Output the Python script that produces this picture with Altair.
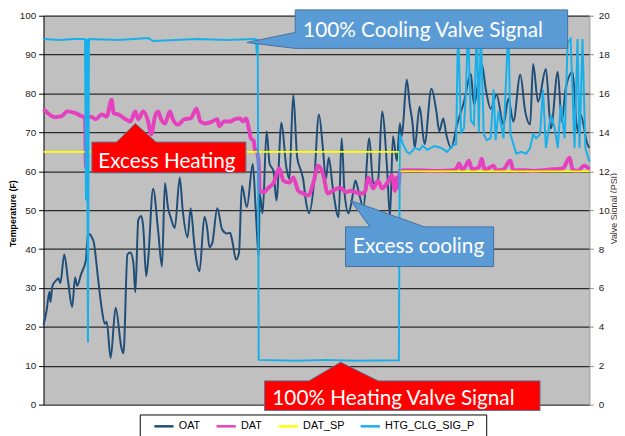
import altair as alt
import pandas as pd

# ---------------- data (sample index 0..553) ----------------
OAT_T = [0, 3, 6, 7, 9, 13, 15, 17, 21, 25, 29, 32, 34, 38, 43, 45, 49, 51, 55, 59, 62, 64, 68, 73,
         79, 81, 85, 88, 91, 93, 96, 99, 101, 104, 106, 111, 116, 120, 123, 126, 129, 133, 138, 141,
         146, 149, 153, 158, 163, 166, 168, 171, 176, 181, 186, 189, 191, 195, 198, 201, 206, 212,
         215, 218, 219, 222, 226, 229, 233, 236, 241, 246, 249, 253, 257, 261, 263, 266, 269, 274,
         279, 283, 286, 289, 293, 299, 302, 305, 309, 312, 316, 319, 324, 330, 334, 339, 343, 348,
         351, 354, 358, 361, 363, 368, 371, 374, 376, 381, 386, 393, 398, 401, 405, 408, 413, 419,
         426, 433, 436, 444, 448, 453, 459, 466, 471, 476, 483, 488, 493, 496, 501, 509, 514, 521,
         525, 529, 536, 541, 544, 551, 553]
OAT_V = [20.4, 24, 29, 26.4, 30.5, 32, 32.5, 31.2, 38.6, 31.5, 25.1, 32.7, 30.5, 33.5, 37.3, 44, 43,
         41.6, 33, 24.6, 20.8, 21.3, 12, 24.9, 14.5, 13.2, 38.6, 39.1, 36.5, 28.9, 47.5, 48.5, 45.7,
         33, 37.3, 55.5, 45, 35.5, 57, 50.8, 48, 45.4, 58.4, 50, 43, 50.5, 40.6, 34.3, 48.3, 45,
         40.5, 41.6, 50.5, 45, 44, 44.2, 42.4, 37.3, 39, 56.3, 50.8, 61.9, 50, 38, 54.3, 49.2, 70.3,
         62, 60, 52.5, 72.5, 61, 58, 79.7, 63.5, 60, 58, 52, 49.2, 56.9, 74.6, 66, 58, 63.5, 55.8,
         48.2, 68.5, 54.3, 49.2, 52, 57.6, 55, 50.8, 68.5, 56.9, 58, 75.4, 61, 48.2, 69, 62.7, 72.3,
         69, 83.6, 77.2, 72, 66, 76.6, 67, 81.2, 75.4, 70.3, 73.6, 69.5, 66, 72, 77.9, 85, 77.2,
         87.6, 81.2, 76.1, 79.7, 72, 78.7, 72.8, 84.8, 75.4, 72, 87.6, 77.9, 86.3, 71, 85.5, 72.8,
         81.2, 85.5, 70.3, 74.6, 67, 66]

DAT_T = [0, 6, 11, 18, 24, 33, 39, 42, 43, 44, 48, 53, 59, 64, 69, 71, 76, 83, 88, 93, 96, 101,
         106, 109, 113, 116, 119, 123, 128, 131, 136, 143, 149, 155, 159, 164, 171, 176, 178, 183,
         189, 194, 199, 202, 205, 208, 210, 213, 214, 216, 218, 219, 223, 228, 233, 239, 243, 249,
         253, 258, 263, 268, 274, 278, 283, 288, 293, 301, 306, 311, 316, 323, 326, 329, 334, 339,
         343, 348, 353, 356, 358, 359, 360, 361, 376, 396, 416, 419, 421, 424, 428, 431, 434, 441,
         444, 447, 456, 459, 466, 473, 476, 486, 496, 506, 516, 526, 533, 536, 541, 548, 553]
DAT_V = [76, 74.6, 73.9, 74.1, 75.4, 74.9, 74.1, 74, 61, 73.5, 74, 73.4, 74.6, 74.1, 78.4, 74.9,
         74.6, 73.4, 72.8, 75.4, 73.4, 75.4, 72.8, 69.5, 74.1, 75.4, 73.4, 72.3, 75.4, 73.4, 72,
         73.4, 73.6, 76.1, 72.8, 72.3, 72.8, 73.4, 71.6, 72.8, 72.8, 73.4, 73.6, 72.8, 73.6, 71,
         68.5, 67.8, 65.7, 65.2, 62, 55, 54.6, 55.8, 57, 60.7, 57.6, 57.1, 58.4, 55, 54.3, 53.8,
         57.6, 61.4, 59.4, 54.3, 55, 55.8, 54.6, 55, 54.6, 54.3, 55, 58.4, 55.6, 57.6, 55.6, 56.9,
         58.9, 55, 58.4, 55.8, 57, 60.2, 60.3, 60.1, 60.3, 61, 62, 60.3, 61.5, 62.7, 60.5, 61, 63.2,
         60.3, 61.4, 60.2, 60.5, 62.7, 60.2, 60.3, 60.1, 60.3, 60.5, 60.7, 63.5, 60.5, 60.1, 61.4,
         60.5]

SP_T = [0, 360, 361, 553]
SP_V = [65, 65, 60, 60]

SIG_T = [0, 16, 31, 42, 43, 44, 45, 46, 76, 106, 111, 156, 186, 215, 216, 217, 218, 256, 286, 316,
         360, 361, 364, 368, 371, 376, 381, 384, 389, 396, 403, 409, 414, 418, 420, 423, 426, 428,
         430, 433, 436, 439, 441, 443, 446, 449, 453, 456, 458, 461, 466, 471, 473, 479, 484, 489,
         493, 496, 499, 503, 506, 509, 514, 518, 521, 524, 528, 531, 534, 538, 541, 543, 546, 549,
         553]
SIG_V = [18.8, 18.75, 18.8, 18.8, 10.5, 18.8, 3.2, 18.8, 18.75, 18.85, 18.7, 18.8, 18.75, 18.8,
         18.1, 18.8, 2.3, 2.25, 2.3, 2.25, 2.28, 13.9, 13.4, 13.0, 12.9, 13.2, 13.1, 13.3, 13.1,
         13.3, 13.2, 13.0, 13.3, 13.4, 19.5, 14.0, 14.2, 16.2, 19.5, 14.6, 14.4, 19.5, 14.0, 19.5,
         13.9, 13.6, 13.7, 16.2, 13.6, 15.1, 13.7, 19.5, 13.9, 12.9, 13.0, 12.9, 13.2, 13.9, 13.7,
         13.9, 16.2, 13.2, 14.9, 14.2, 13.2, 15.4, 13.7, 18.6, 18.8, 13.2, 18.8, 13.2, 18.8, 13.2,
         12.5]

SERIES = ["OAT", "DAT", "DAT_SP", "HTG_CLG_SIG_P"]
COLORS = ["#1F4E79", "#E540BE", "#FFFF00", "#17B0EA"]

# callouts (in sample index / temperature units)
CALL_TEXT = ["100% Cooling Valve Signal", "Excess Heating", "Excess cooling", "100% Heating Valve Signal"]
CALL_T1 = [255, 49, 306, 224]
CALL_T2 = [531, 205, 456, 503]
CALL_Y1 = [101.5, 67.5, 45.7, 6.1]
CALL_Y2 = [91.6, 59.6, 35.5, -1.5]
CALL_FILL = ["#5B9BD5", "#FF0000", "#5B9BD5", "#FF0000"]
CALL_EDGE = ["#41719C", "#5E6F8E", "#41719C", "#5E6F8E"]
TEXT_T = [263, 125, 380, 354.5]
TEXT_Y = [94.6, 60.9, 39.1, -0.1]
TEXT_ALIGN = ["left", "center", "center", "center"]

# pointer triangles: base-end, apex, base-end
PTR_ID = [0, 0, 0, 1, 1, 1, 2, 2, 2, 3, 3, 3]
PTR_T = [255, 206, 255, 74, 93, 114, 331, 311, 386, 269, 301, 339]
PTR_Y = [95.7, 93.1, 91.6, 67.5, 72.3, 67.5, 45.7, 52.5, 45.7, 6.1, 10.9, 6.1]

# ---------------- tables ----------------
def series_df(t, v, name):
    return pd.DataFrame({"t": t, "v": v, "series": name})

df_oat = series_df(OAT_T, OAT_V, "OAT")
df_dat = series_df(DAT_T, DAT_V, "DAT")
df_sp = series_df(SP_T, SP_V, "DAT_SP")
df_sig = series_df(SIG_T, SIG_V, "HTG_CLG_SIG_P")

df_box = pd.DataFrame({"t1": CALL_T1, "t2": CALL_T2, "y1": CALL_Y1, "y2": CALL_Y2,
                       "fill": CALL_FILL, "edge": CALL_EDGE})
df_text = pd.DataFrame({"t": TEXT_T, "y": TEXT_Y, "label": CALL_TEXT, "align": TEXT_ALIGN})

# triangle fills as areas (x, top, bottom); base pushed slightly into the box
area_rows = []
for k in range(4):
    a, b, c = 3 * k, 3 * k + 1, 3 * k + 2
    fill = CALL_FILL[k]
    if k == 0:  # pointing left, vertical base
        area_rows += [dict(id=k, t=PTR_T[b], y=PTR_Y[b], y2=PTR_Y[b], fill=fill),
                      dict(id=k, t=PTR_T[a] + 1.2, y=PTR_Y[a], y2=PTR_Y[c], fill=fill)]
    elif k == 2:  # apex left of base
        ta, tb, tc = PTR_T[a], PTR_T[b], PTR_T[c]
        ya, yb, yc = PTR_Y[a], PTR_Y[b], PTR_Y[c]
        top_at_a = yb + (yc - yb) * (ta - tb) / (tc - tb)
        area_rows += [dict(id=k, t=tb, y=yb, y2=yb, fill=fill),
                      dict(id=k, t=ta, y=top_at_a, y2=ya - 0.35, fill=fill),
                      dict(id=k, t=tc, y=yc, y2=yc - 0.35, fill=fill)]
    else:  # upward pointer, base at bottom
        base = PTR_Y[a] - 0.35
        area_rows += [dict(id=k, t=PTR_T[a], y=PTR_Y[a], y2=base, fill=fill),
                      dict(id=k, t=PTR_T[b], y=PTR_Y[b], y2=base, fill=fill),
                      dict(id=k, t=PTR_T[c], y=PTR_Y[c], y2=base, fill=fill)]
df_area = pd.DataFrame(area_rows)

df_edge = pd.DataFrame({"id": PTR_ID, "i": list(range(len(PTR_ID))), "t": PTR_T, "y": PTR_Y,
                        "edge": [CALL_EDGE[i] for i in PTR_ID]})

# ---------------- scales / axes ----------------
xs = alt.Scale(domain=[0, 553], nice=False, zero=False)
ts = alt.Scale(domain=[0, 100], nice=False, zero=False)
vs = alt.Scale(domain=[0, 20], nice=False, zero=False)
X = alt.X("t:Q", scale=xs, axis=None)

left_axis = alt.Axis(orient="left", values=list(range(0, 101, 10)), title="Temperature (F)",
                     grid=True, gridColor="#2b2b2b", gridWidth=1.3, domainColor="#000000",
                     tickColor="#000000", tickSize=5, labelFontSize=10, labelColor="#222222",
                     labelFont="Liberation Sans", labelPadding=3, titleFont="Liberation Sans",
                     titleFontSize=9, titleFontWeight="bold", titleColor="#000000",
                     titleX=-26, titleY=200, titleAngle=270, titleBaseline="bottom")
right_axis = alt.Axis(orient="right", values=list(range(0, 21, 2)), title="Valve Signal (PSI)",
                      grid=False, domainColor="#8c8c8c", tickColor="#8c8c8c", tickSize=4,
                      labelFontSize=10, labelColor="#222222", labelFont="Liberation Sans",
                      labelPadding=5, titleFont="Liberation Sans", titleFontSize=9,
                      titleFontWeight="normal", titleColor="#333333", titleAngle=270,
                      titleX=20, titleY=195, titleBaseline="top")

legend = alt.Legend(orient="none", legendX=111, legendY=405, direction="horizontal", columns=4,
                    title=None, symbolType="stroke", symbolSize=380, symbolStrokeWidth=2.5,
                    labelFontSize=11, labelFont="Liberation Sans", labelColor="#000000",
                    columnPadding=11, labelOffset=4, padding=0)
color = alt.Color("series:N", scale=alt.Scale(domain=SERIES, range=COLORS), legend=legend)

oat = alt.Chart(df_oat).mark_line(strokeWidth=2, interpolate="monotone").encode(
    x=X, y=alt.Y("v:Q", scale=ts, axis=left_axis), color=color)
dat = alt.Chart(df_dat).mark_line(strokeWidth=4, interpolate="monotone").encode(
    x=X, y=alt.Y("v:Q", scale=ts, axis=None), color=color)
sp = alt.Chart(df_sp).mark_line(strokeWidth=1.8).encode(
    x=X, y=alt.Y("v:Q", scale=ts, axis=None), color=color)
sig = alt.Chart(df_sig).mark_line(strokeWidth=2).encode(
    x=X, y=alt.Y("v:Q", scale=vs, axis=right_axis), color=color)

boxes = alt.Chart(df_box).mark_rect(strokeWidth=1).encode(
    x=alt.X("t1:Q", scale=xs, axis=None), x2="t2:Q",
    y=alt.Y("y1:Q", scale=ts, axis=None), y2="y2:Q",
    fill=alt.Fill("fill:N", scale=None), stroke=alt.Stroke("edge:N", scale=None))
ptr_fill = alt.Chart(df_area).mark_area(interpolate="linear").encode(
    x=X, y=alt.Y("y:Q", scale=ts, axis=None), y2="y2:Q", detail="id:N",
    fill=alt.Fill("fill:N", scale=None))
ptr_edge = alt.Chart(df_edge).mark_line(strokeWidth=1).encode(
    x=X, y=alt.Y("y:Q", scale=ts, axis=None), detail="id:N", order="i:Q",
    stroke=alt.Stroke("edge:N", scale=None))

txt_font = dict(font="Lato", fontSize=21, color="white", baseline="alphabetic")
txt_left = alt.Chart(df_text[df_text["align"] == "left"]).mark_text(align="left", **txt_font).encode(
    x=X, y=alt.Y("y:Q", scale=ts, axis=None), text="label:N")
txt_center = alt.Chart(df_text[df_text["align"] == "center"]).mark_text(align="center", **txt_font).encode(
    x=X, y=alt.Y("y:Q", scale=ts, axis=None), text="label:N")

frame = alt.Chart(pd.DataFrame({"k": [0]})).mark_rect(fill="white", stroke="#000000", strokeWidth=1).encode(
    x=alt.value(98), x2=alt.value(449), y=alt.value(404.5), y2=alt.value(440))

chart = alt.layer(oat, dat, sp, sig, boxes, ptr_fill, ptr_edge, txt_left, txt_center, frame).resolve_scale(
    y="independent"
).properties(
    width=553, height=394,
    autosize=alt.AutoSizeParams(type="none"),
    padding={"left": 36, "top": 5, "right": 28, "bottom": 30},
    background="white",
).configure_view(fill="#C0C0C0", stroke=None)

chart.save("out.html", embed_options={"renderer": "svg", "actions": False})
